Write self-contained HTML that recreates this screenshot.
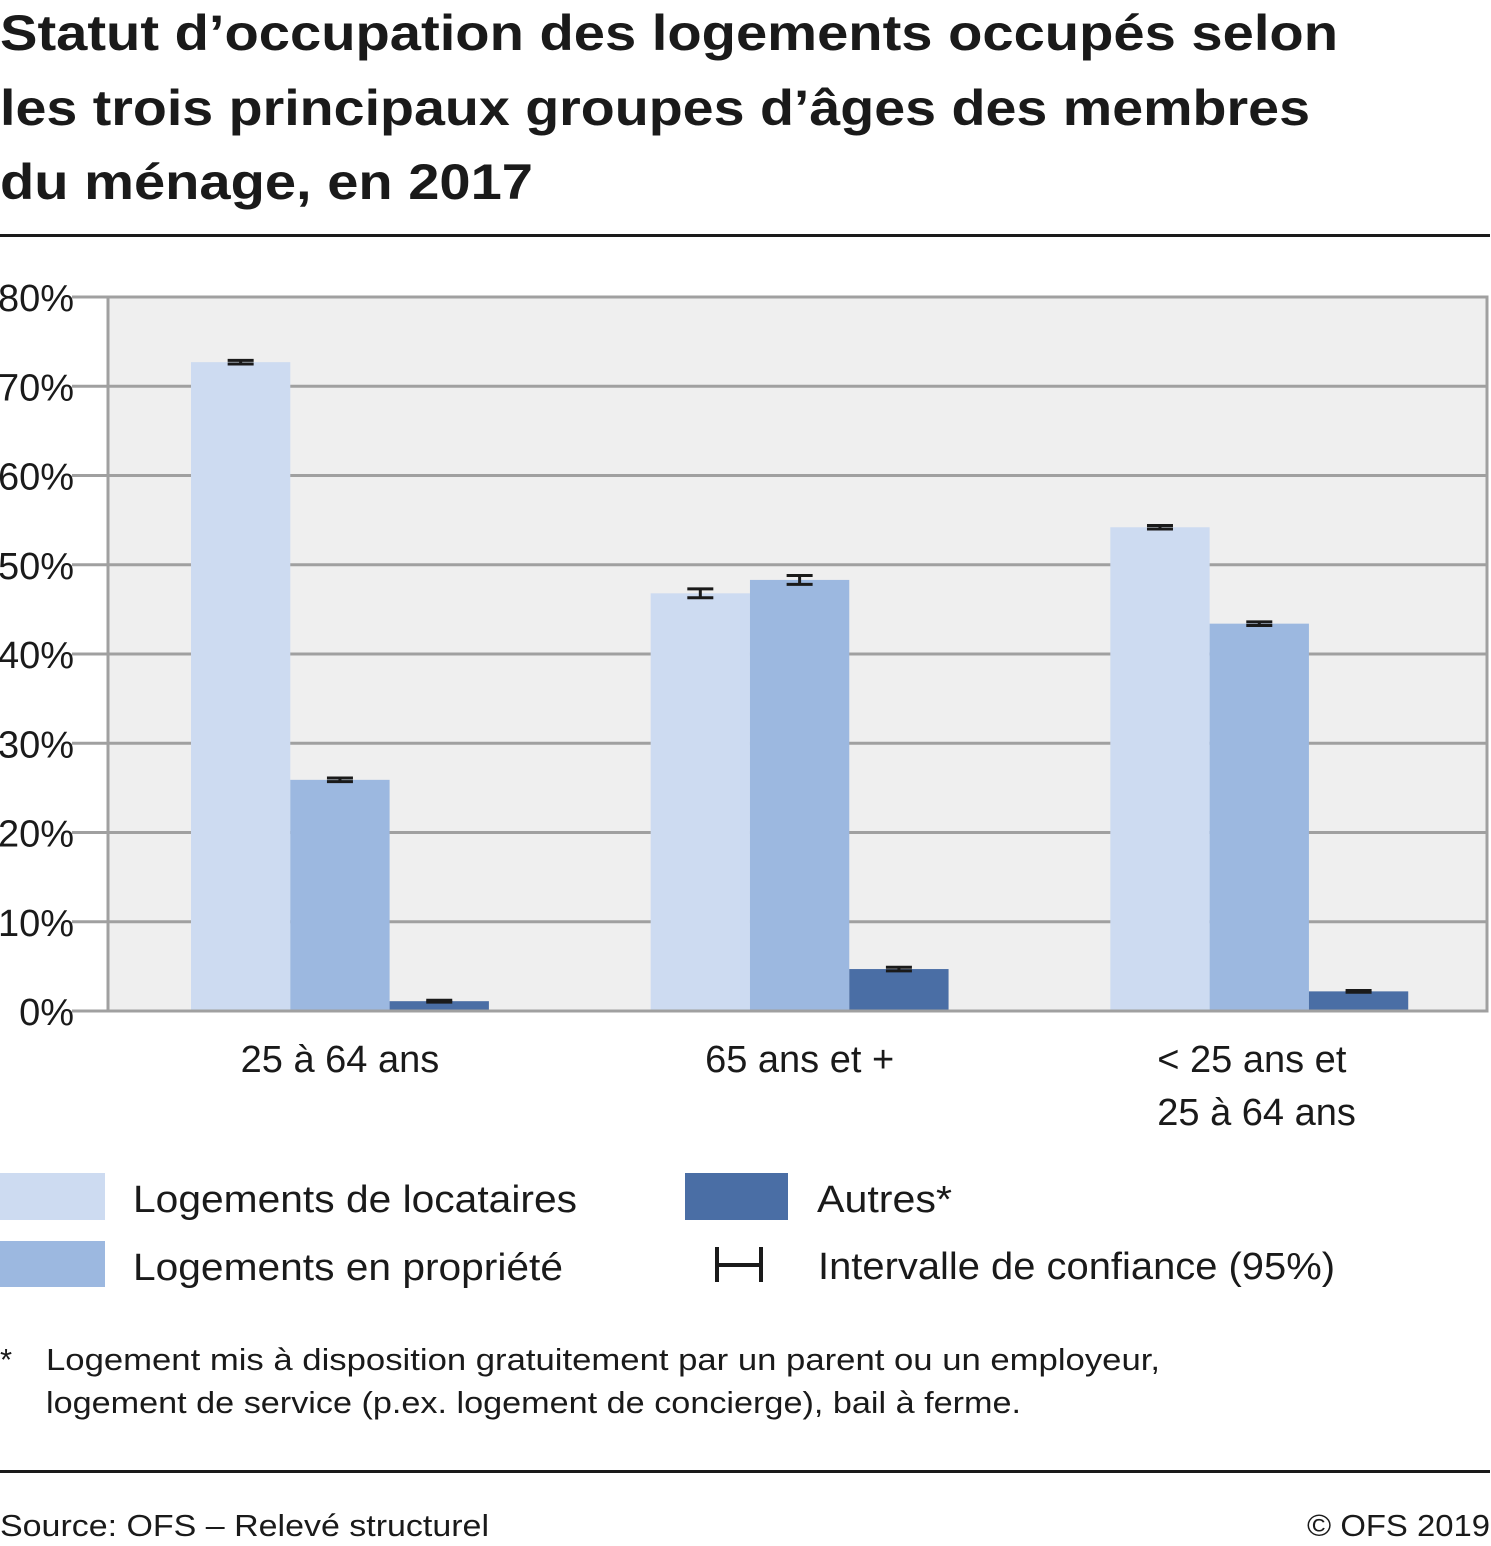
<!DOCTYPE html>
<html><head><meta charset="utf-8"><style>
html,body{margin:0;padding:0;background:#fff}
svg{display:block;font-family:"Liberation Sans",sans-serif}
</style></head><body>
<svg id="c" width="1491" height="1546" viewBox="0 0 1491 1546">
<g font-weight="bold" font-size="50" fill="#1a1a1a">
<text x="0" y="50" textLength="1338" lengthAdjust="spacingAndGlyphs">Statut d’occupation des logements occupés selon</text>
<text x="0" y="125" textLength="1310" lengthAdjust="spacingAndGlyphs">les trois principaux groupes d’âges des membres</text>
<text x="0" y="199" textLength="533" lengthAdjust="spacingAndGlyphs">du ménage, en 2017</text>
</g>
<rect x="0" y="234" width="1490" height="3" fill="#1a1a1a"/>
<rect x="108" y="297" width="1379" height="714" fill="#efefef"/>
<g id="grid"></g><g id="bars"></g><g id="ticks"></g><g id="xlab"></g>
<rect x="108" y="297" width="1379" height="714" fill="none" stroke="#a0a0a0" stroke-width="3"/>
<g font-size="38" fill="#1a1a1a">
<rect x="0" y="1173" width="105" height="47" fill="#cddbf1"/>
<text x="133" y="1212" textLength="444" lengthAdjust="spacingAndGlyphs">Logements de locataires</text>
<rect x="0" y="1241" width="105" height="46" fill="#9cb8e0"/>
<text x="133" y="1280" textLength="430" lengthAdjust="spacingAndGlyphs">Logements en propriété</text>
<rect x="685" y="1173" width="103" height="47" fill="#4a6ea5"/>
<text x="817" y="1212" textLength="135" lengthAdjust="spacingAndGlyphs">Autres*</text>
<g stroke="#1a1a1a" stroke-width="4"><line x1="717" y1="1247" x2="717" y2="1282"/><line x1="761" y1="1247" x2="761" y2="1282"/><line x1="717" y1="1265" x2="761" y2="1265"/></g>
<text x="818" y="1279" textLength="517" lengthAdjust="spacingAndGlyphs">Intervalle de confiance (95%)</text>
</g>
<g font-size="31" fill="#1a1a1a">
<text x="0" y="1370">*</text>
<text x="46" y="1370" textLength="1114" lengthAdjust="spacingAndGlyphs">Logement mis à disposition gratuitement par un parent ou un employeur,</text>
<text x="46" y="1413" textLength="975" lengthAdjust="spacingAndGlyphs">logement de service (p.ex. logement de concierge), bail à ferme.</text>
</g>
<rect x="0" y="1470" width="1490" height="3" fill="#1a1a1a"/>
<text x="0" y="1536" font-size="31" fill="#1a1a1a" textLength="489" lengthAdjust="spacingAndGlyphs">Source: OFS – Relevé structurel</text>
<text x="1307" y="1536" font-size="31" fill="#1a1a1a" textLength="183" lengthAdjust="spacingAndGlyphs">© OFS 2019</text>
</svg>
<script>
const categories = [["25 à 64 ans"], ["65 ans et +"], ["< 25 ans et", "25 à 64 ans"]];
const seriesNames = ["locataires", "propriete", "autres"];
const locataires = [72.7, 46.8, 54.2];
const propriete = [25.9, 48.3, 43.4];
const autres = [1.1, 4.7, 2.2];
const ciLocataires = [0.2, 0.5, 0.2];
const ciPropriete = [0.2, 0.5, 0.2];
const ciAutres = [0.1, 0.2, 0.1];
const yTicks = [0, 10, 20, 30, 40, 50, 60, 70, 80];

const NS = "http://www.w3.org/2000/svg";
const X0 = 108, X1 = 1487, Y0 = 1011, Y1 = 297;
const y = v => Y0 - (v / 80) * (Y0 - Y1);
const gw = (X1 - X0) / categories.length;
const bw = 99.3, off = 83;
const colors = ["#cddbf1", "#9cb8e0", "#4a6ea5"];
const series = [locataires, propriete, autres];
const cis = [ciLocataires, ciPropriete, ciAutres];
function mk(t, a, parent) { const e = document.createElementNS(NS, t); for (const k in a) e.setAttribute(k, a[k]); parent.appendChild(e); return e; }
const grid = document.getElementById("grid"), bars = document.getElementById("bars"), ticks = document.getElementById("ticks"), xlab = document.getElementById("xlab");
yTicks.forEach(t => {
  const l = mk("line", { x1: 72, x2: X1, y1: y(t), y2: y(t), stroke: "#a0a0a0", "stroke-width": 3 }, grid);
  
  
  const tx = mk("text", { x: 74, y: y(t) + 14, "text-anchor": "end", "font-size": 38, fill: "#1a1a1a" }, ticks);
  tx.textContent = t + "%";
  
  
});
categories.forEach((c, i) => {
  series.forEach((s, j) => {
    const x = X0 + i * gw + off + j * bw;
    const r = mk("rect", { x: x, y: y(s[i]), width: bw, height: Y0 - y(s[i]), fill: colors[j] }, bars);
    
    
    const cx = x + bw / 2, lo = y(s[i] - cis[j][i]), hi = y(s[i] + cis[j][i]);
    const g = mk("g", { stroke: "#1a1a1a", "stroke-width": 3 }, bars);
    
    
    mk("line", { x1: cx - 13, x2: cx + 13, y1: hi, y2: hi }, g);
    mk("line", { x1: cx - 13, x2: cx + 13, y1: lo, y2: lo }, g);
    mk("line", { x1: cx, x2: cx, y1: hi, y2: lo }, g);
  });
  const cx = X0 + i * gw + off + 1.5 * bw;
  const multi = c.length > 1;
  c.forEach((line, k) => {
    const t = mk("text", { x: multi ? cx - 102 : cx, y: 1072 + k * 53, "text-anchor": multi ? "start" : "middle", "font-size": 38, fill: "#1a1a1a" }, xlab);
    t.textContent = line;
    
    
  });
});
</script>
</body></html>
